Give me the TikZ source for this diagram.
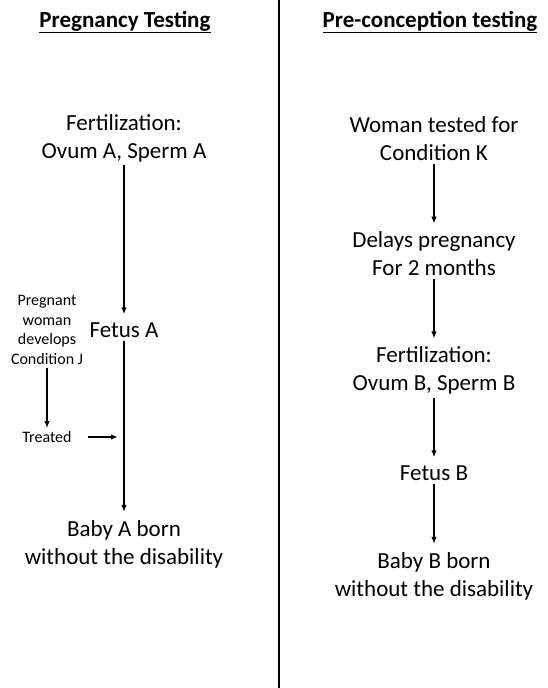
\documentclass[tikz,border=0pt]{standalone}
\usepackage{fontspec}
\setmainfont{Carlito}
\usepackage{tikz}
\usetikzlibrary{arrows.meta}

\tikzset{
steptext/.style={
  align=center,
  font=\fontsize{23}{28}\selectfont,
  inner sep=3pt
},
notetext/.style={
  align=center,
  font=\fontsize{16}{19.5}\selectfont,
  inner sep=3pt
},
titletext/.style={
  font=\bfseries\fontsize{23}{28}\selectfont
},
arrow/.style={
  -{Latex[length=7pt,width=5.5pt]},
  line width=1.6pt
},
flowarrow/.style={
  arrow,
  shorten >=5pt
},
divider/.style={
  line width=2.6pt
}
}

\begin{document}
\begin{tikzpicture}[x=1pt,y=-1pt]
  \useasboundingbox (0,0) rectangle (548,688);

  % titles and divider
  \node[titletext] (titleA) at (125,22) {\underline{Pregnancy Testing}};
  \node[titletext] (titleB) at (430,22) {\underline{Pre-conception testing}};
  \coordinate (divtop) at (279,0);
  \coordinate (divbot) at (279,688);
  \draw[divider] (divtop) -- (divbot);

  % pregnancy testing
  \node[steptext] (fertA) at (124,138) {Fertilization:\\Ovum A, Sperm A};
  \node[steptext] (fetA) at (124,330) {Fetus A};
  \node[steptext] (babyA) at (124,544) {Baby A born\\without the disability};
  \node[notetext] (condJ) at (47,330) {Pregnant\\woman\\develops\\Condition J};
  \node[notetext] (treated) at (47,437) {Treated};

  \draw[flowarrow] (fertA) -- (fetA);
  \draw[flowarrow] (fetA) -- (babyA);
  \draw[arrow] (condJ) -- (treated);
  \draw[arrow, shorten <=13pt, shorten >=6pt] (treated) -- (treated -| fetA);

  % pre-conception testing
  \node[steptext] (tested) at (434,138.5) {Woman tested for\\Condition K};
  \node[steptext] (delays) at (434,254) {Delays pregnancy\\For 2 months};
  \node[steptext] (fertB) at (434,370.5) {Fertilization:\\Ovum B, Sperm B};
  \node[steptext] (fetB) at (434,473) {Fetus B};
  \node[steptext] (babyB) at (434,576) {Baby B born\\without the disability};

  \draw[flowarrow] (tested) -- (delays);
  \draw[flowarrow] (delays) -- (fertB);
  \draw[flowarrow] (fertB) -- (fetB);
  \draw[flowarrow] (fetB) -- (babyB);
\end{tikzpicture}
\end{document}
